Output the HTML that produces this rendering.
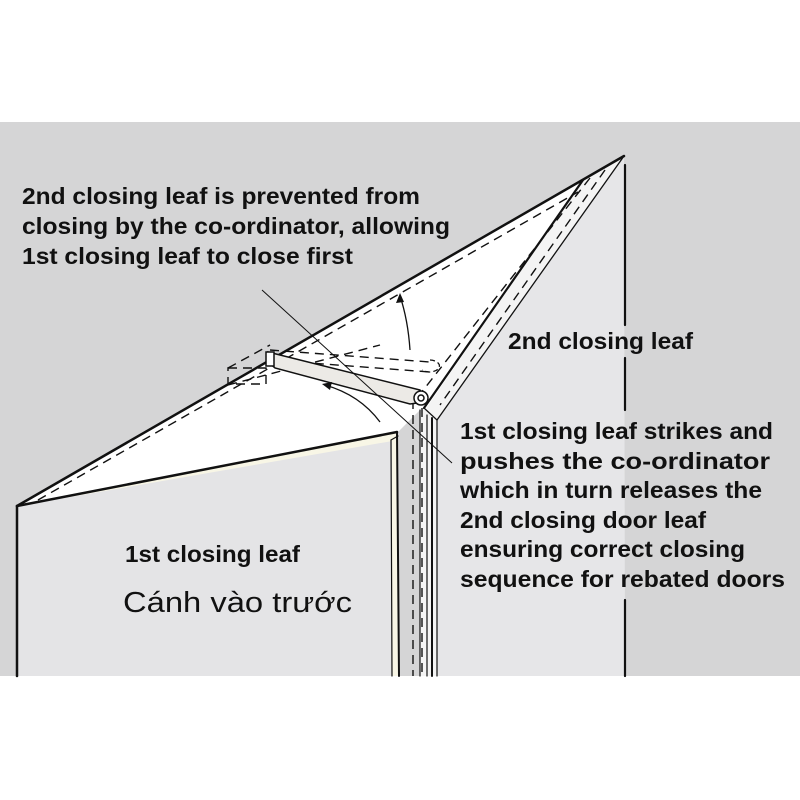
<!DOCTYPE html>
<html><head><meta charset="utf-8"><style>
html,body{margin:0;padding:0;background:#fff;}
svg{display:block;}
text{font-family:"Liberation Sans",Arial,sans-serif;}
.b{font-weight:bold;font-size:23px;fill:#111;}
</style></head><body>
<svg width="800" height="800" viewBox="0 0 800 800" xmlns="http://www.w3.org/2000/svg">
<rect x="0" y="0" width="800" height="800" fill="#fff"/>
<rect x="0" y="122" width="800" height="554" fill="#d5d5d6"/>
<polygon points="17,506 624,156 437,420 420,410 398,432" fill="#fff"/>
<polygon points="624,156 625,676 437,676 437,420" fill="#e6e6e8"/>
<polygon points="583,180 624,156 437,420 425,410" fill="#f4f4f4"/>
<rect x="420" y="410" width="17" height="266" fill="#f4f4f4"/>
<polygon points="17,506 397,432 400,676 17,676" fill="#e4e4e6"/>
<polygon points="17,506 397,432 398,440 30,504" fill="#f8f6e6"/>
<rect x="392" y="440" width="6" height="236" fill="#f8f6e6"/>
<g stroke="#111" fill="none" stroke-linecap="round">
<line x1="17" y1="506" x2="624" y2="156" stroke-width="2.5"/>
<line x1="17" y1="506" x2="17" y2="676" stroke-width="2.5"/>
<line x1="17" y1="506" x2="397" y2="432" stroke-width="2.5"/>
<line x1="397" y1="432" x2="399" y2="676" stroke-width="2"/>
<line x1="391" y1="440" x2="392" y2="676" stroke-width="1.2"/>
<line x1="391" y1="440" x2="398" y2="436" stroke-width="1.2"/>
<line x1="583" y1="180" x2="424" y2="408" stroke-width="2.2"/>
<line x1="624" y1="156" x2="437" y2="420" stroke-width="1.3"/>
<line x1="625" y1="165" x2="625" y2="325" stroke-width="2.2"/>
<line x1="625" y1="358" x2="625" y2="410" stroke-width="2.2"/>
<line x1="625" y1="600" x2="625" y2="676" stroke-width="2.2"/>
<line x1="420" y1="410" x2="420" y2="676" stroke-width="1.2"/>
<line x1="427" y1="415" x2="427" y2="676" stroke-width="1.2"/>
<line x1="432" y1="418" x2="432" y2="676" stroke-width="2"/>
<line x1="437" y1="420" x2="437" y2="676" stroke-width="1.2"/>
<line x1="424" y1="408" x2="437" y2="420" stroke-width="1.2"/>
</g>
<g stroke="#111" fill="none" stroke-width="1.4" stroke-dasharray="9,6">
<line x1="38" y1="500" x2="578" y2="192"/>
<line x1="590" y1="178" x2="417" y2="398"/>
<line x1="605" y1="170" x2="440" y2="405"/>
<line x1="413" y1="400" x2="413" y2="676"/>
<line x1="422" y1="408" x2="422" y2="676"/>
<line x1="228" y1="385" x2="380" y2="345"/>
<line x1="270" y1="350" x2="430" y2="362"/>
<line x1="270" y1="360" x2="430" y2="372"/>
<rect x="228" y="368" width="38" height="16"/>
<line x1="228" y1="368" x2="270" y2="345"/>
</g>
<g stroke="#111" stroke-width="1.5">
<polygon points="268,352 420,390 425,402 410,404 275,368 268,362" fill="#eceae6"/>
<circle cx="421" cy="398" r="7" fill="#fff"/>
<circle cx="421" cy="398" r="3" fill="#fff"/>
<rect x="266" y="352" width="8" height="14" fill="#fff"/>
</g>
<path d="M430,360 a10,6 0 1 1 -8,10" stroke="#111" fill="none" stroke-width="1.3" stroke-dasharray="5,3"/>
<line x1="262" y1="290" x2="452" y2="463" stroke="#111" stroke-width="1"/>
<g stroke="#111" fill="none" stroke-width="1.3">
<path d="M410,350 Q408,320 400,296"/>
<path d="M380,422 Q360,395 325,385"/>
</g>
<polygon points="400,293 396,303 404,302" fill="#111"/>
<polygon points="322,384 332,382 330,390" fill="#111"/>
<text class="b" x="22" y="204" textLength="398" lengthAdjust="spacingAndGlyphs">2nd closing leaf is prevented from</text>
<text class="b" x="22" y="234" textLength="428" lengthAdjust="spacingAndGlyphs">closing by the co-ordinator, allowing</text>
<text class="b" x="22" y="264" textLength="331" lengthAdjust="spacingAndGlyphs">1st closing leaf to close first</text>
<text class="b" x="508" y="349" textLength="185" lengthAdjust="spacingAndGlyphs">2nd closing leaf</text>
<text class="b" x="460" y="439" textLength="313" lengthAdjust="spacingAndGlyphs">1st closing leaf strikes and</text>
<text class="b" x="460" y="469" textLength="310" lengthAdjust="spacingAndGlyphs">pushes the co-ordinator</text>
<text class="b" x="460" y="498" textLength="302" lengthAdjust="spacingAndGlyphs">which in turn releases the</text>
<text class="b" x="460" y="528" textLength="246" lengthAdjust="spacingAndGlyphs">2nd closing door leaf</text>
<text class="b" x="460" y="557" textLength="285" lengthAdjust="spacingAndGlyphs">ensuring correct closing</text>
<text class="b" x="460" y="587" textLength="325" lengthAdjust="spacingAndGlyphs">sequence for rebated doors</text>
<text class="b" x="125" y="562" textLength="175" lengthAdjust="spacingAndGlyphs">1st closing leaf</text>
<text x="123" y="612" font-size="29" fill="#111" textLength="229" lengthAdjust="spacingAndGlyphs">Cánh vào trước</text>
</svg>
</body></html>
